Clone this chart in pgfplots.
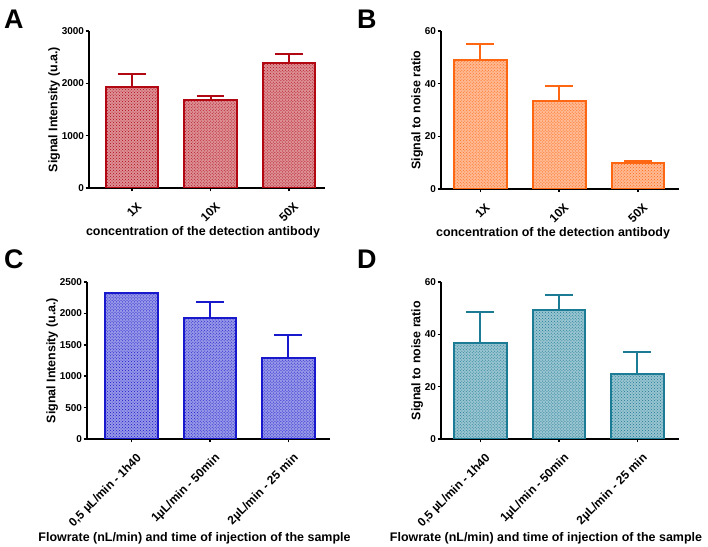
\documentclass[border=0pt]{standalone}
\usepackage{fontspec}
\setmainfont{Liberation Sans}
\usepackage{pgfplots}
\pgfplotsset{compat=1.18}
\usetikzlibrary{patterns}

\definecolor{cA}{RGB}{178,8,20}
\definecolor{cB}{RGB}{255,102,17}
\definecolor{cC}{RGB}{24,24,204}
\definecolor{cD}{RGB}{28,124,150}

\pgfplotstableread{
x y e
0 1922 253
1 1681 82
2 2391 178
}\dataA
\pgfplotstableread{
x y e
0 49.1 5.8
1 33.5 5.5
2 9.7 1.0
}\dataB
\pgfplotstableread{
x y e
0 2319 0
1 1920 261
2 1287 367
}\dataC
\pgfplotstableread{
x y e
0 36.6 11.9
1 49.4 5.8
2 24.7 8.7
}\dataD

\pgfplotsset{
  panel/.style={
    scale only axis,
    anchor=south west,
    axis lines=left,
    axis line style={line width=1.5pt, -},
    tick style={line width=1.5pt, black},
    major tick length=3.5pt,
    tick align=outside,
    tick pos=left,
    ybar,
    bar width=0.67,
    ymin=0,
    xtick={0,1,2},
    yticklabel style={font=\fontsize{10}{12}\selectfont\bfseries, xshift=2bp,
      /pgf/number format/1000 sep={}, /pgf/number format/assume math mode=true},
    xticklabel style={font=\fontsize{12}{14}\selectfont\bfseries,
      rotate=45, anchor=north east, inner sep=1pt, yshift=-9bp, xshift=-3bp},
    ylabel style={font=\fontsize{12.5}{14}\selectfont\bfseries, yshift=-5bp},
    xlabel style={at={(ticklabel cs:0.5)}, anchor=north, inner sep=2pt,
      font=\fontsize{12.5}{14}\selectfont\bfseries},
  },
  bars/.style={
    draw=#1, line width=2pt, fill=#1!45,
    postaction={pattern=crosshatch dots, pattern color=#1},
    error bars/.cd, y dir=plus, y explicit,
    error bar style={line width=2pt, #1},
    error mark options={rotate=90, mark size=14pt, line width=2pt, #1},
  },
}

\begin{document}
\begin{tikzpicture}
\path[use as bounding box] (0,0) rectangle (708bp,547bp);

\begin{axis}[panel, at={(89bp,359bp)}, width=236bp, height=157bp,
  xmin=-0.55, xmax=2.46, ymax=3000, ytick={0,1000,2000,3000},
  xticklabels={1X,10X,50X},
  ylabel={Signal Intensity (u.a.)},
  xlabel style={xshift=-4bp},
  xlabel={concentration of the detection antibody}]
\addplot[bars=cA] table[x=x, y=y, y error=e] {\dataA};
\end{axis}

\begin{axis}[panel, at={(441bp,358bp)}, width=238bp, height=158bp,
  xmin=-0.5, xmax=2.52, ymax=60, ytick={0,20,40,60},
  xticklabels={1X,10X,50X},
  ylabel={Signal to noise ratio},
  xlabel style={xshift=-7bp},
  xlabel={concentration of the detection antibody}]
\addplot[bars=cB] table[x=x, y=y, y error=e] {\dataB};
\end{axis}

\begin{axis}[panel, at={(87bp,108bp)}, width=243bp, height=157bp,
  xmin=-0.566, xmax=2.53, ymax=2500, ytick={0,500,1000,1500,2000,2500},
  xticklabels={{0,5 µL/min - 1h40},{1µL/min - 50min},{2µL/min - 25 min}},
  ylabel={Signal Intensity (u.a.)},
  xlabel style={xshift=-14bp},
  xlabel={Flowrate (nL/min) and time of injection of the sample}]
\addplot[bars=cC] table[x=x, y=y, y error=e] {\dataC};
\end{axis}

\begin{axis}[panel, at={(441bp,108bp)}, width=238bp, height=157bp,
  xmin=-0.5, xmax=2.53, ymax=60, ytick={0,20,40,60},
  xticklabels={{0,5 µL/min - 1h40},{1µL/min - 50min},{2µL/min - 25 min}},
  ylabel={Signal to noise ratio},
  xlabel style={xshift=-14bp},
  xlabel={Flowrate (nL/min) and time of injection of the sample}]
\addplot[bars=cD] table[x=x, y=y, y error=e] {\dataD};
\end{axis}

\node[anchor=north west, inner sep=0pt, font=\fontsize{27}{27}\selectfont\bfseries] at (4bp,537bp) {A};
\node[anchor=north west, inner sep=0pt, font=\fontsize{27}{27}\selectfont\bfseries] at (357bp,537bp) {B};
\node[anchor=north west, inner sep=0pt, font=\fontsize{27}{27}\selectfont\bfseries] at (4bp,297bp) {C};
\node[anchor=north west, inner sep=0pt, font=\fontsize{27}{27}\selectfont\bfseries] at (357bp,297bp) {D};
\end{tikzpicture}
\end{document}
